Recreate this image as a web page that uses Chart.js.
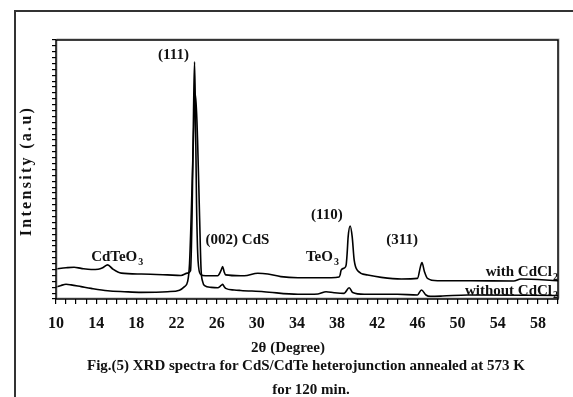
<!DOCTYPE html>
<html>
<head>
<meta charset="utf-8">
<script src="https://cdn.jsdelivr.net/npm/chart.js@4"></script>
<style>
  body { margin: 0; background: #fff; }
  #wrap { position: relative; width: 573px; height: 397px; overflow: hidden; }
  #frame { position: absolute; left: 14px; top: 10px; width: 570px; height: 400px;
           border-left: 2px solid #333; border-top: 2px solid #333;
           box-shadow: -1px -1px 0 #999 inset; }
  .txt { position: absolute; font-family: "Liberation Serif", "Times New Roman", serif;
         font-weight: bold; color: #111; white-space: nowrap; text-align: center; line-height: 16px; }
</style>
</head>
<body>
<div id="wrap">
  <div id="frame"></div>
  <canvas id="xrd" width="573" height="397" style="position:absolute;left:0;top:0"></canvas>
  <div class="txt" id="ytitle" style="left:-74px;top:163px;width:200px;font-size:16px;letter-spacing:2.3px;transform:rotate(-90deg)">Intensity (a.u)</div>
  <div class="txt" style="left:188px;top:339px;width:200px;font-size:15px">2θ (Degree)</div>
  <div class="txt" style="left:6px;top:357px;width:600px;font-size:15px">Fig.(5) XRD spectra for CdS/CdTe heterojunction annealed at 573 K</div>
  <div class="txt" style="left:161px;top:381px;width:300px;font-size:15px">for 120 min.</div>
</div>
<script>
// 2theta (deg), intensity (a.u.)
const withCdCl2 = [
    [10, 5.1], [11, 5.3], [11.8, 5.4], [12.5, 5.2], [13.5, 5.0], [14.2, 5.05],
    [14.65, 5.3], [15.15, 5.8], [15.65, 5.1], [16.5, 4.4], [18.5, 4.25], [21.1, 4.1],
    [22.45, 4.0], [23.1, 4.4], [23.4, 4.8], [23.55, 14], [23.7, 32], [23.8, 40.3],
    [23.9, 30], [24.0, 16], [24.15, 6.5], [24.4, 4.2], [24.9, 3.96], [26.1, 3.96],
    [26.45, 4.9], [26.6, 5.5], [26.75, 4.6], [26.9, 4.1], [28.4, 3.96], [28.75, 3.96],
    [30.1, 4.37], [31.1, 4.25], [32.4, 3.8], [34.1, 3.62], [37.4, 3.62], [38.2, 3.75],
    [38.3, 4.1], [38.4, 4.9], [38.75, 5.3], [38.9, 5.8], [39.0, 7.8], [39.1, 10.6],
    [39.3, 12.4], [39.5, 10.6], [39.7, 6.6], [40.05, 4.8], [41.05, 4.08], [42.4, 3.68],
    [44.4, 3.4], [46.0, 3.5], [46.3, 5.5], [46.45, 6.2], [46.7, 4.64], [47.0, 3.5],
    [48.0, 3.1], [51.3, 3.1], [55.6, 3.05], [56.3, 3.4], [60, 3.1]
];
const withoutCdCl2 = [
    [10, 2.0], [10.5, 2.3], [11, 2.5], [11.5, 2.4], [12.5, 2.1], [13.5, 1.8],
    [15.15, 1.4], [16.8, 1.24], [18.5, 1.13], [21.1, 1.24], [22.3, 1.5], [22.8, 2.1],
    [23.1, 2.9], [23.3, 6], [23.5, 16], [23.7, 28], [23.9, 34.7], [24.1, 27],
    [24.3, 14], [24.45, 5], [24.6, 3.0], [24.8, 2.26], [25.45, 1.98], [26.1, 1.92],
    [26.45, 2.3], [26.6, 2.5], [26.75, 2.1], [26.9, 1.8], [27.75, 1.53], [28.4, 1.45],
    [30.7, 1.24], [34.1, 0.8], [36.1, 0.85], [36.9, 1.24], [37.7, 1.07], [38.7, 0.96],
    [39.2, 1.92], [39.55, 1.1], [40.7, 0.8], [44.0, 0.8], [46.0, 0.68], [46.4, 1.53],
    [46.85, 0.68], [47.3, 0.45], [48.5, 0.5], [51.0, 0.68], [60, 0.6]
];
const xLabels = [10, 14, 18, 22, 26, 30, 34, 38, 42, 46, 50, 54, 58];

// peak labels: [text, subscript, 2theta, intensity, align]
const peakLabels = [
    ["(111)", "", 21.7, 41.4, "center"],
    ["CdTeO", "3", 13.5, 7.1, "left"],
    ["(002) CdS", "", 24.9, 10.0, "left"],
    ["TeO", "3", 34.9, 7.1, "left"],
    ["(110)", "", 35.4, 14.3, "left"],
    ["(311)", "", 42.9, 10.0, "left"],
    ["with CdCl", "2", 60, 4.6, "right"],
    ["without CdCl", "2", 60, 1.4, "right"],
];

const FONT = '"Liberation Serif", "Times New Roman", serif';

const toPts = (arr) => arr.map((p) => ({ x: p[0], y: p[1] }));

const labelPlugin = {
    id: "labels",
    afterDraw(chart) {
        const ctx = chart.ctx;
        const a = chart.chartArea;
        ctx.save();
        // plot frame
        ctx.strokeStyle = "#aaa";
        ctx.lineWidth = 1;
        ctx.strokeRect(a.left + 1, a.top - 1, a.right - a.left, a.bottom - a.top);
        ctx.strokeStyle = "#000";
        ctx.lineWidth = 1.5;
        ctx.strokeRect(a.left, a.top, a.right - a.left, a.bottom - a.top);

        ctx.fillStyle = "#111";
        ctx.textBaseline = "middle";
        peakLabels.forEach((l) => {
            let x = chart.scales.x.getPixelForValue(l[2]);
            const y = chart.scales.y.getPixelForValue(l[3]);
            ctx.font = "bold 15px " + FONT;
            const w1 = ctx.measureText(l[0]).width;
            ctx.font = "bold 10px " + FONT;
            const w2 = l[1] ? ctx.measureText(l[1]).width + 1 : 0;
            if (l[4] === "center") x -= (w1 + w2) / 2;
            if (l[4] === "right") x -= w1 + w2;
            ctx.font = "bold 15px " + FONT;
            ctx.fillText(l[0], x, y);
            if (l[1]) {
                ctx.font = "bold 10px " + FONT;
                ctx.fillText(l[1], x + w1 + 1, y + 5);
            }
        });
        ctx.restore();
    },
};

const ctx = document.getElementById("xrd").getContext("2d");
const xrdChart = new Chart(ctx, {
    type: "line",
    data: {
        datasets: [
            { label: "with CdCl2", data: toPts(withCdCl2) },
            { label: "without CdCl2", data: toPts(withoutCdCl2) },
        ],
    },
    options: {
        responsive: false,
        animation: false,
        layout: { padding: { top: 40, right: 15, left: 0, bottom: 0 } },
        elements: {
            point: { radius: 0 },
            line: { borderColor: "#000", borderWidth: 1.6, tension: 0.3, cubicInterpolationMode: "monotone" },
        },
        plugins: { legend: { display: false }, tooltip: { enabled: false } },
        scales: {
            x: {
                type: "linear",
                min: 10,
                max: 60,
                afterFit: (s) => { s.height = 98; },
                afterBuildTicks: (s) => {
                    s.ticks = [];
                    for (let v = 10; v <= 60; v++) s.ticks.push({ value: v });
                },
                ticks: {
                    autoSkip: false,
                    maxRotation: 0,
                    padding: 10,
                    color: "#111",
                    font: { family: FONT, size: 16, weight: "bold" },
                    callback: (v) => (xLabels.includes(v) ? String(v) : ""),
                },
                grid: { drawOnChartArea: false, tickLength: 5, color: "#000", lineWidth: 1.2 },
                border: { display: false },
            },
            y: {
                min: 0,
                max: 44,
                afterFit: (s) => { s.width = 56; },
                afterBuildTicks: (s) => {
                    s.ticks = [];
                    for (let v = 0; v <= 44; v++) s.ticks.push({ value: v });
                },
                ticks: { autoSkip: false, callback: () => "" },
                grid: { drawOnChartArea: false, tickLength: 4, color: "#000", lineWidth: 1.2 },
                border: { display: false },
            },
        },
    },
    plugins: [labelPlugin],
});
</script>
</body>
</html>
